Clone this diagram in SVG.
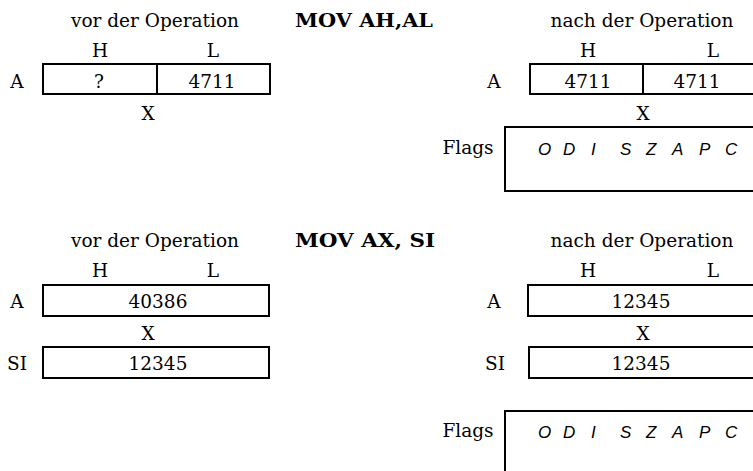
<svg xmlns="http://www.w3.org/2000/svg" width="753" height="471" viewBox="0 0 753 471">
<style>
.t{font-family:"DejaVu Serif","Liberation Serif",serif;font-size:18.5px;fill:#000;text-anchor:middle}
.b{font-weight:bold}
.f{font-family:"Liberation Sans",Arial,sans-serif;font-style:italic;font-size:17px;fill:#000}
.box{fill:none;stroke:#000;stroke-width:2}
</style>
<rect width="753" height="471" fill="#fff"/>
<g id="titles1">
<text class="t" x="155" y="27">vor der Operation</text>
<text class="t b" x="364" y="27" textLength="138" lengthAdjust="spacingAndGlyphs">MOV AH,AL</text>
<text class="t" x="642" y="27">nach der Operation</text>
</g>
<g id="regA-before1">
<text class="t" x="100" y="57">H</text>
<text class="t" x="213" y="57">L</text>
<text class="t" x="17" y="88">A</text>
<rect class="box" x="43" y="64" width="227" height="30"/>
<line class="box" x1="157" y1="64" x2="157" y2="94"/>
<text class="t" x="99" y="88">?</text>
<text class="t" x="212" y="88">4711</text>
<text class="t" x="148" y="120">X</text>
</g>
<g id="regA-after1">
<text class="t" x="588" y="57">H</text>
<text class="t" x="713" y="57">L</text>
<text class="t" x="494" y="88">A</text>
<rect class="box" x="530" y="64" width="228" height="30"/>
<line class="box" x1="643" y1="64" x2="643" y2="94"/>
<text class="t" x="588" y="88">4711</text>
<text class="t" x="697" y="88">4711</text>
<text class="t" x="643" y="120">X</text>
</g>
<g id="flags1">
<text class="t" x="468" y="154">Flags</text>
<rect class="box" x="505" y="127" width="260" height="64"/>
<text class="f" y="155"><tspan x="538">O</tspan><tspan x="563">D</tspan><tspan x="591">I</tspan><tspan x="620">S</tspan><tspan x="646">Z</tspan><tspan x="672">A</tspan><tspan x="699">P</tspan><tspan x="725">C</tspan></text>
</g>
<g id="titles2">
<text class="t" x="155" y="247">vor der Operation</text>
<text class="t b" x="365" y="247" textLength="140" lengthAdjust="spacingAndGlyphs">MOV AX, SI</text>
<text class="t" x="642" y="247">nach der Operation</text>
</g>
<g id="regs-before2">
<text class="t" x="100" y="277">H</text>
<text class="t" x="213" y="277">L</text>
<text class="t" x="17" y="308">A</text>
<rect class="box" x="43" y="285" width="226" height="31"/>
<text class="t" x="158" y="308">40386</text>
<text class="t" x="148" y="340">X</text>
<text class="t" x="17" y="370">SI</text>
<rect class="box" x="43" y="347" width="226" height="31"/>
<text class="t" x="158" y="370">12345</text>
</g>
<g id="regs-after2">
<text class="t" x="588" y="277">H</text>
<text class="t" x="713" y="277">L</text>
<text class="t" x="494" y="308">A</text>
<rect class="box" x="528" y="285" width="230" height="31"/>
<text class="t" x="641" y="308">12345</text>
<text class="t" x="643" y="340">X</text>
<text class="t" x="495" y="370">SI</text>
<rect class="box" x="529" y="347" width="230" height="31"/>
<text class="t" x="641" y="370">12345</text>
</g>
<g id="flags2">
<text class="t" x="468" y="437">Flags</text>
<rect class="box" x="505" y="411" width="260" height="64"/>
<text class="f" y="438"><tspan x="538">O</tspan><tspan x="563">D</tspan><tspan x="591">I</tspan><tspan x="620">S</tspan><tspan x="646">Z</tspan><tspan x="672">A</tspan><tspan x="699">P</tspan><tspan x="725">C</tspan></text>
</g>
<g id="connectors"/>
</svg>
